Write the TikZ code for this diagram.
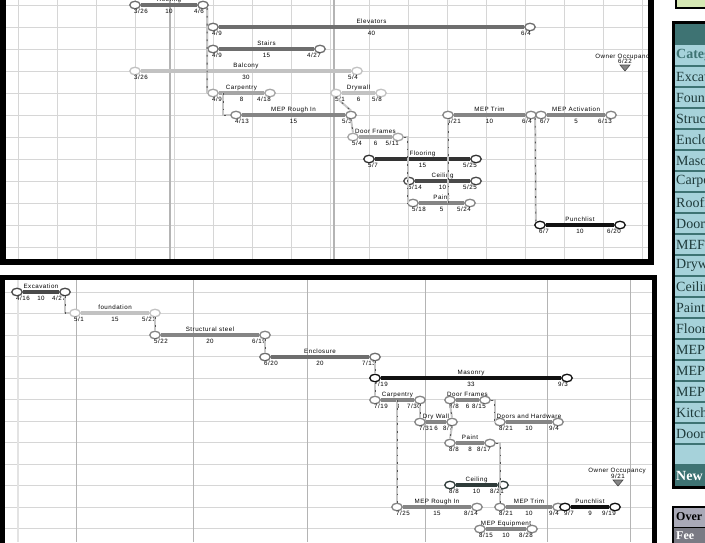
\documentclass[tikz,border=0pt]{standalone}
\usepackage{fontspec}
\setmainfont{Liberation Sans}[LetterSpace=8]
\newfontfamily\hyofont{Liberation Serif}
\usetikzlibrary{shapes.geometric}

\definecolor{k1}{HTML}{111111}
\definecolor{k2}{HTML}{333333}
\definecolor{g1}{HTML}{4A4A4A}
\definecolor{g2}{HTML}{6E6E6E}
\definecolor{g3}{HTML}{858585}
\definecolor{g4}{HTML}{A5A5A5}
\definecolor{g5}{HTML}{C2C2C2}
\definecolor{cg}{HTML}{2E3B39}
\definecolor{gridc}{HTML}{D6D6D6}
\definecolor{monthc}{HTML}{B4B4B4}
\definecolor{tabhead}{HTML}{3E7373}
\definecolor{tabrow}{HTML}{A6D2DA}
\definecolor{tabtxt}{HTML}{1E3A3A}
\definecolor{topgreen}{HTML}{D6E8B4}
\definecolor{overrow}{HTML}{A9A9B7}
\definecolor{feerow}{HTML}{7A7A84}

\begin{document}
\begin{tikzpicture}[x=1pt, y=-1pt,
  font=\fontsize{6.2}{6.2}\selectfont,
  ev/.style={ellipse, draw, fill=white, line width=1.3pt, minimum width=10.5pt, minimum height=7.5pt, inner sep=0pt},
  bar/.style={line width=4pt},
  lbl/.style={inner sep=0pt, anchor=base},
  link/.style={draw=gray!45, line width=2pt, postaction={draw=gray!65!black, line width=0.9pt, dash pattern=on 1.8pt off 6pt}},
  gridline/.style={draw=gridc, line width=0.8pt},
  month/.style={draw=monthc, line width=1.8pt},
  hyo/.style={anchor=west, inner sep=0pt, text=tabtxt, font=\hyofont\fontsize{14}{14}\selectfont}]
\useasboundingbox (0,0) rectangle (705,542);
\clip (0,0) rectangle (705,542);

% 上のパネル
\begin{scope}
\clip (6,0) rectangle (648,259);
\foreach \y in {5,27,...,247} \draw[gridline] (6,\y) -- (648,\y); % 横線
\foreach \x in {18,57,...,642} \draw[gridline] (\x,0) -- (\x,259); % 週
\foreach \x in {170,334} \draw[month] (\x,0) -- (\x,259); % 月
% 作業
\foreach \id/\xa/\xb/\y/\c/\lab/\s/\d/\e in {
  roof/135/203/5/g2/Roofing/{3/26}/10/{4/6},
  elev/213/530/27/g2/Elevators/{4/9}/40/{6/4},
  stair/213/320/49/g2/Stairs/{4/9}/15/{4/27},
  balc/135/357/71/g5/Balcony/{3/26}/30/{5/4},
  carp/213/270/93/g4/Carpentry/{4/9}/8/{4/18},
  dryw/336/381/93/g5/Drywall/{5/1}/6/{5/8},
  rough/236/351/115/g3/MEP Rough In/{4/13}/15/{5/3},
  trim/448/531/115/g3/MEP Trim/{5/21}/10/{6/4},
  act/541/611/115/g3/MEP Activation/{6/7}/5/{6/13},
  dfr/353/398/137/g4/Door Frames/{5/4}/6/{5/11},
  floor/369/476/159/k2/Flooring/{5/7}/15/{5/25},
  ceil/409/476/181/g1/Ceiling/{5/14}/10/{5/25},
  paint/413/470/203/g3/Paint/{5/18}/5/{5/24},
  punch/540/620/225/k1/Punchlist/{6/7}/10/{6/20}}{
  \node[ev, draw=\c] (\id-s) at (\xa,\y) {};
  \node[ev, draw=\c] (\id-e) at (\xb,\y) {};
  \draw[bar, \c] (\id-s) -- (\id-e);
  \node[lbl] (\id-n) at ({(\xa+\xb)/2},\y-4) {\lab};
  \node[lbl, anchor=base west] (\id-sd) at (\xa-1,\y+8) {\s};
  \node[lbl] (\id-dd) at ({(\xa+\xb)/2},\y+8) {\d};
  \node[lbl, anchor=base east] (\id-ed) at (\xb+1,\y+8) {\e};
}
% 依存関係
\coordinate (carp-m) at (223,93);
\coordinate (paint-m) at (448,203);
\draw[link] (roof-e.south east) -- (elev-s.west);
\draw[link] (roof-e.south east) -- (stair-s.west);
\draw[link] (roof-e.south east) -- (carp-s.west);
\draw[link] (carp-m) |- (rough-s.west);
\draw[link] (dryw-s.south) -- (rough-e.north);
\draw[link] (rough-e.south) -- (dfr-s.north);
\draw[link] (dfr-e.east) -- ++(4,0) |- (paint-s.west);
\draw[link] (paint-m) -- (trim-s.south);
\draw[link] (trim-e.south east) -- (punch-s.north west);
% 入居
\node[lbl] (own-t) at (624,58) {Owner Occupancy};
\node[lbl] (own-d) at (625,63) {6/22};
\coordinate (own) at (625,67);
\draw[draw=g1, fill=g3, line width=0.6pt] (own) ++(-5,-2) -- ++(10,0) -- ++(-5,6) -- cycle;
\end{scope}
\draw[line width=6pt] (3,-5) -- (3,262) -- (650.5,262) -- (650.5,-5); % 枠

% 下のパネル
\begin{scope}
\clip (5,280) rectangle (652,542);
\foreach \y in {292,313.5,...,529} \draw[gridline] (5,\y) -- (652,\y); % 横線
\draw[draw=gray!22, line width=2.5pt] (18,280) -- (18,542);
\foreach \x in {76,193,307,425,547,630} \draw[draw=monthc, line width=1pt] (\x,280) -- (\x,542); % 月
% 作業
\foreach \id/\xa/\xb/\y/\c/\lab/\s/\d/\e in {
  exc/17/65/292/g1/Excavation/{4/16}/10/{4/27},
  fnd/75/155/313/g5/foundation/{5/1}/15/{5/21},
  steel/155/265/335/g3/Structural steel/{5/22}/20/{6/19},
  encl/265/375/357/g2/Enclosure/{6/20}/20/{7/13},
  mas/375/567/378/k1/Masonry/{7/19}/33/{9/3},
  bcarp/375/420/400/g3/Carpentry/{7/19}/8/{7/30},
  bdfr/450/485/400/g3/Door Frames/{8/8}/6/{8/15},
  bdw/420/452/422/g3/Dry Wall/{7/31}/6/{8/7},
  dh/500/558/422/g3/Doors and Hardware/{8/21}/10/{9/4},
  bpaint/450/490/443/g3/Paint/{8/8}/8/{8/17},
  bceil/450/503/485/cg/Ceiling/{8/8}/10/{8/21},
  brough/397/477/507/g3/MEP Rough In/{7/25}/15/{8/14},
  btrim/500/558/507/g3/MEP Trim/{8/21}/10/{9/4},
  bpunch/565/615/507/k1/Punchlist/{9/7}/9/{9/19},
  equip/480/532/529/g3/MEP Equipment/{8/15}/10/{8/28}}{
  \node[ev, draw=\c] (\id-s) at (\xa,\y) {};
  \node[ev, draw=\c] (\id-e) at (\xb,\y) {};
  \draw[bar, \c] (\id-s) -- (\id-e);
  \node[lbl] (\id-n) at ({(\xa+\xb)/2},\y-4) {\lab};
  \node[lbl, anchor=base west] (\id-sd) at (\xa-1,\y+8) {\s};
  \node[lbl] (\id-dd) at ({(\xa+\xb)/2},\y+8) {\d};
  \node[lbl, anchor=base east] (\id-ed) at (\xb+1,\y+8) {\e};
}
% 依存関係
\coordinate (bcarp-m) at (397,400);
\draw[link] (exc-e.south) |- (fnd-s.west);
\draw[link] (fnd-e.south) -- (steel-s.north);
\draw[link] (steel-e.south) -- (encl-s.north);
\draw[link] (encl-e.south) -- (mas-s.north);
\draw[link] (mas-s.south) -- (bcarp-s.north);
\draw[link] (bcarp-m) -- (brough-s.north);
\draw[link] (bcarp-e.south) -- (bdw-s.north);
\draw[link] (bdfr-s.south) -- (bdw-e.north);
\draw[link] (bdw-e.south) -- (bpaint-s.north);
\draw[link] (bdfr-e.east) -- ++(4,0) |- (dh-s.west);
\draw[link] (bpaint-e.east) -| (btrim-s.north);
% 入居
\node[lbl] (bown-t) at (617,472) {Owner Occupancy};
\node[lbl] (bown-d) at (618,478.5) {9/21};
\coordinate (bown) at (618,482);
\draw[draw=g1, fill=g3, line width=0.6pt] (bown) ++(-5,-2) -- ++(10,0) -- ++(-5,6) -- cycle;
\end{scope}
\draw[line width=5.5pt] (2.5,550) -- (2.5,277.5) -- (654.5,277.5) -- (654.5,550); % 枠

% 右上の緑
\draw[fill=topgreen, line width=2pt] (676,-5) rectangle (712,8);
% 表
\fill[tabhead] (673,22) rectangle (712,45);
\fill[tabrow] (673,45) rectangle (712,465);
\foreach \i in {1,...,20} \draw[tabhead, line width=1.2pt] (673,{45+21*\i}) -- (712,{45+21*\i});
\fill[tabhead] (673,465) rectangle (712,486);
\draw[line width=3pt] (673,22) rectangle (714,487);
\node[hyo, text=tabhead, font=\hyofont\bfseries\fontsize{14}{14}\selectfont] (cat0) at (676,55.5) {Categ};
\foreach \t [count=\i] in {Excav,Foun,Struc,Enclo,Maso,Carpe,Roofi,Door,MEFI,Dryw,Ceilin,Paint,Floor,MEP,MEP,MEP,Kitch,Door}
  \node[hyo] (cat\i) at (676,{55.5+21*\i}) {\t};
\node[hyo, text=white, font=\hyofont\bfseries\fontsize{14}{14}\selectfont] (catnew) at (676,475.5) {New};
% 下の表
\fill[overrow] (673,507) rectangle (712,527);
\fill[feerow] (673,527) rectangle (712,545);
\draw[line width=1pt] (673,527) -- (712,527);
\draw[line width=2.5pt] (673,507) rectangle (714,550);
\node[hyo, text=black, font=\hyofont\bfseries\fontsize{12}{12}\selectfont] (over) at (676,517) {Over};
\node[hyo, text=white, font=\hyofont\bfseries\fontsize{12}{12}\selectfont] (fee) at (676,536) {Fee};
\end{tikzpicture}
\end{document}
